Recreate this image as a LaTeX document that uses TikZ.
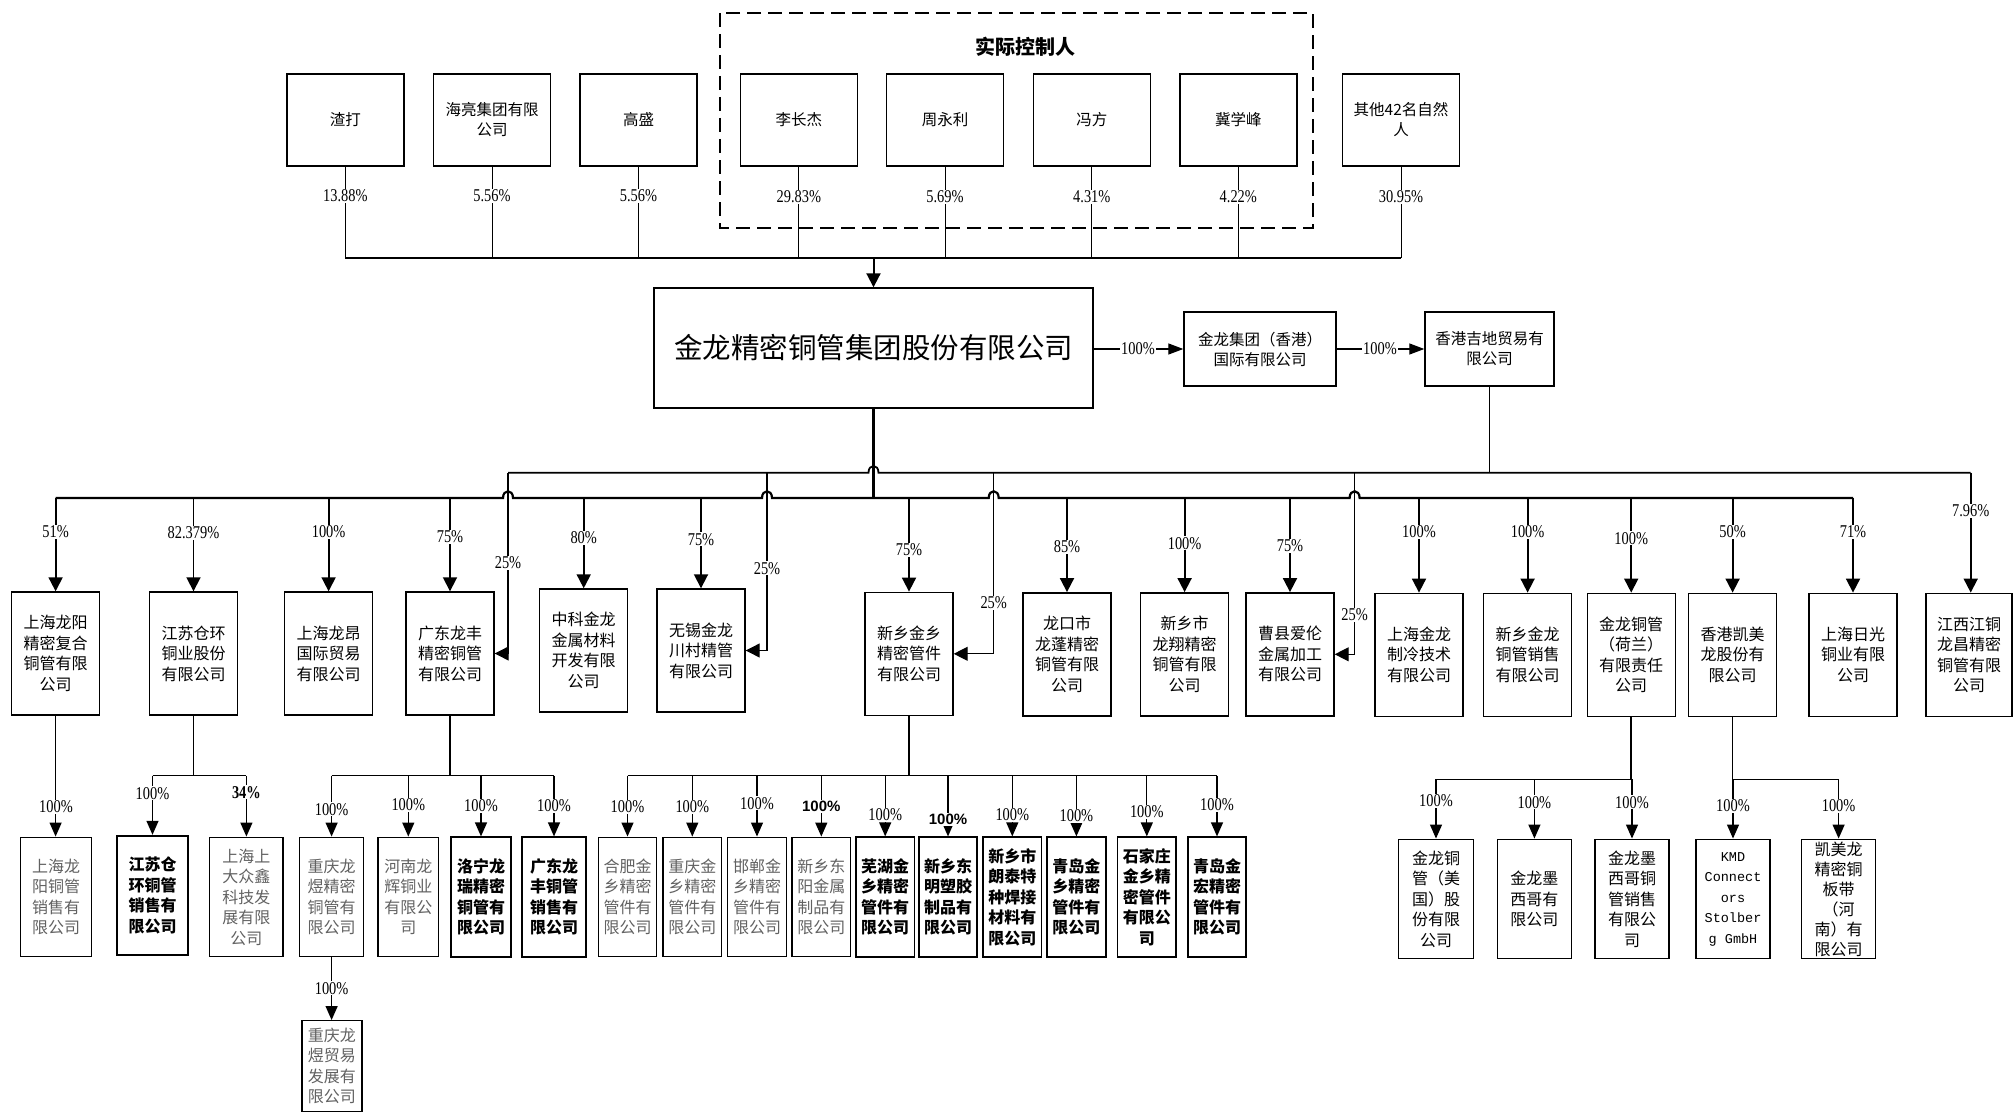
\documentclass[tikz,border=0pt]{standalone}
\usepackage{fontspec}
\setmainfont{Noto Sans CJK SC}
\newfontfamily\pctfont[FakeStretch=0.8]{Liberation Serif}
\newfontfamily\pctsans{Liberation Sans}
\newfontfamily\kmdfont{Liberation Mono}
\usetikzlibrary{arrows.meta}
\newcommand{\hopat}[2]{-- (#1-5,#2) .. controls (#1-5,#2-9) and (#1+5,#2-9) .. (#1+5,#2)}
\tikzset{
  box/.style={draw=black, line width=1.4pt, align=center, inner sep=0pt, font=\fontsize{16}{20.5}\selectfont},
  topbox/.style={box, minimum width=117pt, minimum height=92pt, font=\fontsize{15.5}{20}\selectfont},
  midbox/.style={box, minimum width=88pt, minimum height=123pt},
  lowbox/.style={box, minimum height=119.5pt},
  greytext/.style={text=black!62, draw=black},
  boldtext/.style={line width=1.7pt, font=\fontsize{16}{20.5}\selectfont\bfseries},
  pct/.style={fill=white, inner sep=1pt, font=\pctfont\fontsize{18}{18}\selectfont},
  pctbold/.style={pct, font=\pctfont\fontsize{18}{18}\selectfont\bfseries},
  pctsansbold/.style={pct, font=\pctsans\fontsize{15}{15}\selectfont\bfseries},
  stem/.style={line width=1pt},
  bus/.style={line width=2.2pt},
  hkl/.style={line width=1.8pt},
  subbus/.style={line width=1.5pt},
  arr/.style={line width=1.8pt, -{Triangle[width=14pt,length=14pt]}},
  sidearr/.style={line width=1.2pt, -{Triangle[width=14pt,length=14pt]}},
  harr/.style={line width=1.3pt, -{Triangle[width=11pt,length=15pt]}},
  subarr/.style={line width=1.3pt, -{Triangle[width=12pt,length=14pt]}}
}
\begin{document}
\begin{tikzpicture}[x=1pt,y=-1pt]
\useasboundingbox (0,0) rectangle (2013,1113);
\coordinate (topbus) at (0,258);
\coordinate (bus) at (0,498);
\coordinate (hkline) at (0,472.7);
\coordinate (sbl) at (0,775.7);
\coordinate (sbr) at (0,779.3);
\coordinate (v1) at (508,472.7);
\coordinate (v2) at (767,472.7);
\coordinate (v3) at (993.7,472.7);
\coordinate (v4) at (1354.6,472.7);
\coordinate (v5) at (1970.7,472.7);

\draw[line width=2pt, dash pattern=on 14pt off 7pt] (720,13) rectangle (1313,228);
\node[font=\fontsize{20}{20}\selectfont\bfseries] (ctrl) at (1025,47) {实际控制人};

\node[topbox] (zd) at (345.3,120) {渣打};
\node[topbox] (hl) at (492,120) {海亮集团有限\\公司};
\node[topbox] (gs) at (638.5,120) {高盛};
\node[topbox] (lcj) at (798.8,120) {李长杰};
\node[topbox] (zyl) at (945,120) {周永利};
\node[topbox] (ff) at (1091.8,120) {冯方};
\node[topbox] (jxf) at (1238.3,120) {冀学峰};
\node[topbox] (qt) at (1401,120) {其他42名自然\\人};

\draw[stem] (zd.south) -- (zd.south |- topbus);
\draw[stem] (hl.south) -- (hl.south |- topbus);
\draw[stem] (gs.south) -- (gs.south |- topbus);
\draw[stem] (lcj.south) -- (lcj.south |- topbus);
\draw[stem] (zyl.south) -- (zyl.south |- topbus);
\draw[stem] (ff.south) -- (ff.south |- topbus);
\draw[stem] (jxf.south) -- (jxf.south |- topbus);
\draw[stem] (qt.south) -- (qt.south |- topbus);
\draw[bus] (zd.south |- topbus) -- (qt.south |- topbus);

\node[box, minimum width=439pt, minimum height=120pt, font=\fontsize{28.5}{34}\selectfont] (main) at (873.5,348) {金龙精密铜管集团股份有限公司};
\node[box, minimum width=152pt, minimum height=74pt, font=\fontsize{15.5}{20}\selectfont] (hkg) at (1260,349) {金龙集团（香港）\\国际有限公司};
\node[box, minimum width=129pt, minimum height=74pt, font=\fontsize{15.5}{20}\selectfont] (jd) at (1489.5,349) {香港吉地贸易有\\限公司};

\draw[arr, line width=2pt] (main.north |- topbus) -- (main.north);
\draw[harr] (main.east |- hkg.west) -- (hkg.west);
\draw[harr] (hkg.east) -- (jd.west);

\node[pct] (p1) at (345.3,196) {13.88\%};
\node[pct] (p2) at (492,196) {5.56\%};
\node[pct] (p3) at (638.5,196) {5.56\%};
\node[pct] (p4) at (798.8,197) {29.83\%};
\node[pct] (p5) at (945,197) {5.69\%};
\node[pct] (p6) at (1091.8,197) {4.31\%};
\node[pct] (p7) at (1238.3,197) {4.22\%};
\node[pct] (p8) at (1401,197) {30.95\%};
\node[pct] (phk1) at (1138,349) {100\%};
\node[pct] (phk2) at (1380,349) {100\%};

\node[midbox] (m1) at (55.6,653.5) {上海龙阳\\精密复合\\铜管有限\\公司};
\node[midbox] (m2) at (193.5,653.5) {江苏仓环\\铜业股份\\有限公司};
\node[midbox] (m3) at (328.6,653.5) {上海龙昂\\国际贸易\\有限公司};
\node[midbox] (m4) at (450,653.5) {广东龙丰\\精密铜管\\有限公司};
\node[midbox] (m5) at (583.7,650.5) {中科金龙\\金属材料\\开发有限\\公司};
\node[midbox] (m6) at (701,650.5) {无锡金龙\\川村精管\\有限公司};
\node[midbox] (m7) at (909,653.8) {新乡金乡\\精密管件\\有限公司};
\node[midbox] (m8) at (1067,654.3) {龙口市\\龙蓬精密\\铜管有限\\公司};
\node[midbox] (m9) at (1184.6,654.3) {新乡市\\龙翔精密\\铜管有限\\公司};
\node[midbox] (m10) at (1290,654.3) {曹县爱伦\\金属加工\\有限公司};
\node[midbox] (m11) at (1419,654.8) {上海金龙\\制冷技术\\有限公司};
\node[midbox] (m12) at (1527.6,654.8) {新乡金龙\\铜管销售\\有限公司};
\node[midbox] (m13) at (1631.2,654.8) {金龙铜管\\（荷兰）\\有限责任\\公司};
\node[midbox] (m14) at (1732.6,654.8) {香港凯美\\龙股份有\\限公司};
\node[midbox] (m15) at (1853,654.8) {上海日光\\铜业有限\\公司};
\node[midbox, minimum width=86pt] (m16) at (1969,654.8) {江西江铜\\龙昌精密\\铜管有限\\公司};

\draw[bus] (main.south) -- (main.south |- bus);
\draw[bus] (m1.north |- bus) \hopat{508}{498} \hopat{767}{498} \hopat{993.7}{498} \hopat{1354.6}{498} -- (m15.north |- bus);
\draw[hkl] (jd.south) -- (jd.south |- hkline);
\draw[hkl] (v1) \hopat{873.5}{472.7} -- (v5);

\draw[arr] (m1.north |- bus) -- (m1.north);
\draw[arr] (m2.north |- bus) -- (m2.north);
\draw[arr] (m3.north |- bus) -- (m3.north);
\draw[arr] (m4.north |- bus) -- (m4.north);
\draw[arr] (m5.north |- bus) -- (m5.north);
\draw[arr] (m6.north |- bus) -- (m6.north);
\draw[arr] (m7.north |- bus) -- (m7.north);
\draw[arr] (m8.north |- bus) -- (m8.north);
\draw[arr] (m9.north |- bus) -- (m9.north);
\draw[arr] (m10.north |- bus) -- (m10.north);
\draw[arr] (m11.north |- bus) -- (m11.north);
\draw[arr] (m12.north |- bus) -- (m12.north);
\draw[arr] (m13.north |- bus) -- (m13.north);
\draw[arr] (m14.north |- bus) -- (m14.north);
\draw[arr] (m15.north |- bus) -- (m15.north);
\draw[arr] (v5) -- (v5 |- m16.north);
\draw[sidearr] (v1) |- (m4.east);
\draw[sidearr] (v2) |- (m6.east);
\draw[sidearr] (v3) |- (m7.east);
\draw[sidearr] (v4) |- (m10.east);

\node[pct] (q1) at (55.6,531.7) {51\%};
\node[pct] (q2) at (193.5,532.7) {82.379\%};
\node[pct] (q3) at (328.6,531.7) {100\%};
\node[pct] (q4) at (450,536.7) {75\%};
\node[pct] (q5) at (583.7,538) {80\%};
\node[pct] (q6) at (701,539.3) {75\%};
\node[pct] (q7) at (909,550) {75\%};
\node[pct] (q8) at (1067,546.7) {85\%};
\node[pct] (q9) at (1184.6,543.3) {100\%};
\node[pct] (q10) at (1290,545.7) {75\%};
\node[pct] (q11) at (1419,531.7) {100\%};
\node[pct] (q12) at (1527.6,531.7) {100\%};
\node[pct] (q13) at (1631.2,538.3) {100\%};
\node[pct] (q14) at (1732.6,531.7) {50\%};
\node[pct] (q15) at (1853,531.7) {71\%};
\node[pct] (q16) at (1970.7,510.7) {7.96\%};
\node[pct] (s1) at (508,562.7) {25\%};
\node[pct] (s2) at (767,568.3) {25\%};
\node[pct] (s3) at (993.7,602.7) {25\%};
\node[pct] (s4) at (1354.6,615) {25\%};

\node[lowbox, greytext, minimum width=70.5pt] (l1) at (56,897) {上海龙\\阳铜管\\销售有\\限公司};
\node[lowbox, boldtext, minimum width=70.5pt] (l2) at (152.5,895.4) {江苏仓\\环铜管\\销售有\\限公司};
\node[lowbox, greytext, minimum width=73.3pt] (l3) at (246.4,897) {上海上\\大众鑫\\科技发\\展有限\\公司};
\node[lowbox, greytext, minimum width=63.8pt] (l4) at (331.6,897) {重庆龙\\煜精密\\铜管有\\限公司};
\node[lowbox, greytext, minimum width=60.5pt] (l5) at (408.3,897) {河南龙\\辉铜业\\有限公\\司};
\node[lowbox, boldtext, minimum width=60pt] (l6) at (481,897) {洛宁龙\\瑞精密\\铜管有\\限公司};
\node[lowbox, boldtext, minimum width=63.4pt] (l7) at (554,897) {广东龙\\丰铜管\\销售有\\限公司};
\node[box, greytext, minimum width=60pt, minimum height=90.5pt] (l8) at (331.8,1066) {重庆龙\\煜贸易\\发展有\\限公司};

\node[lowbox, greytext, minimum width=58.5pt] (n1) at (627.5,897) {合肥金\\乡精密\\管件有\\限公司};
\node[lowbox, greytext, minimum width=58.5pt] (n2) at (692.3,897) {重庆金\\乡精密\\管件有\\限公司};
\node[lowbox, greytext, minimum width=58.5pt] (n3) at (757,897) {邯郸金\\乡精密\\管件有\\限公司};
\node[lowbox, greytext, minimum width=58.5pt] (n4) at (821.3,897) {新乡东\\阳金属\\制品有\\限公司};
\node[lowbox, boldtext, minimum width=58.5pt] (n5) at (885.2,897) {芜湖金\\乡精密\\管件有\\限公司};
\node[lowbox, boldtext, minimum width=58.5pt] (n6) at (948,897) {新乡东\\明塑胶\\制品有\\限公司};
\node[lowbox, boldtext, minimum width=58.5pt] (n7) at (1012.3,897) {新乡市\\朗泰特\\种焊接\\材料有\\限公司};
\node[lowbox, boldtext, minimum width=58.5pt] (n8) at (1076.4,897) {青岛金\\乡精密\\管件有\\限公司};
\node[lowbox, boldtext, minimum width=58.5pt] (n9) at (1146.8,897) {石家庄\\金乡精\\密管件\\有限公\\司};
\node[lowbox, boldtext, minimum width=58.5pt] (n10) at (1217,897) {青岛金\\宏精密\\管件有\\限公司};

\node[lowbox, minimum width=74.5pt] (r1) at (1436,899) {金龙铜\\管（美\\国）股\\份有限\\公司};
\node[lowbox, minimum width=74.2pt] (r2) at (1534.4,899) {金龙墨\\西哥有\\限公司};
\node[lowbox, minimum width=74.2pt] (r3) at (1632,899) {金龙墨\\西哥铜\\管销售\\有限公\\司};
\node[lowbox, minimum width=74pt, font=\kmdfont\fontsize{13.5}{20.5}\selectfont] (r4) at (1733,899) {KMD\\Connect\\ors\\Stolber\\g GmbH};
\node[lowbox, minimum width=74.1pt, font=\fontsize{16}{20}\selectfont] (r5) at (1838.6,899) {凯美龙\\精密铜\\板带\\（河\\南）有\\限公司};

\draw[subarr] (m1.south) -- (m1.south |- l1.north);
\draw[subbus] (m2.south) -- (m2.south |- sbl);
\draw[subbus] (l2.north |- sbl) -- (l3.north |- sbl);
\draw[subarr] (l2.north |- sbl) -- (l2.north);
\draw[subarr] (l3.north |- sbl) -- (l3.north);
\draw[subbus] (m4.south) -- (m4.south |- sbl);
\draw[subbus] (l4.north |- sbl) -- (l7.north |- sbl);
\draw[subarr] (l4.north |- sbl) -- (l4.north);
\draw[subarr] (l5.north |- sbl) -- (l5.north);
\draw[subarr] (l6.north |- sbl) -- (l6.north);
\draw[subarr] (l7.north |- sbl) -- (l7.north);
\draw[subarr] (l4.south) -- (l4.south |- l8.north);
\draw[subbus] (m7.south) -- (m7.south |- sbl);
\draw[subbus] (n1.north |- sbl) -- (n10.north |- sbl);
\draw[subarr] (n1.north |- sbl) -- (n1.north);
\draw[subarr] (n2.north |- sbl) -- (n2.north);
\draw[subarr] (n3.north |- sbl) -- (n3.north);
\draw[subarr] (n4.north |- sbl) -- (n4.north);
\draw[subarr] (n5.north |- sbl) -- (n5.north);
\draw[subarr] (n6.north |- sbl) -- (n6.north);
\draw[subarr] (n7.north |- sbl) -- (n7.north);
\draw[subarr] (n8.north |- sbl) -- (n8.north);
\draw[subarr] (n9.north |- sbl) -- (n9.north);
\draw[subarr] (n10.north |- sbl) -- (n10.north);
\draw[subbus] (m13.south) -- (m13.south |- sbr);
\draw[subbus] (r1.north |- sbr) -- (r3.north |- sbr);
\draw[subarr] (r1.north |- sbr) -- (r1.north);
\draw[subarr] (r2.north |- sbr) -- (r2.north);
\draw[subarr] (r3.north |- sbr) -- (r3.north);
\draw[subbus] (m14.south) -- (m14.south |- sbr);
\draw[subbus] (r4.north |- sbr) -- (r5.north |- sbr);
\draw[subarr] (r4.north |- sbr) -- (r4.north);
\draw[subarr] (r5.north |- sbr) -- (r5.north);

\node[pct] (t1) at (56,806.7) {100\%};
\node[pct] (t2) at (152.5,793.3) {100\%};
\node[pctbold] (t3) at (246.4,792.3) {34\%};
\node[pct] (t4) at (331.6,809.3) {100\%};
\node[pct] (t5) at (408.3,805) {100\%};
\node[pct] (t6) at (481,806) {100\%};
\node[pct] (t7) at (554,806) {100\%};
\node[pct] (t8) at (331.6,988.3) {100\%};
\node[pct] (u1) at (627.5,806.7) {100\%};
\node[pct] (u2) at (692.3,806.7) {100\%};
\node[pct] (u3) at (757,803.3) {100\%};
\node[pctsansbold] (u4) at (821.3,806.7) {100\%};
\node[pct] (u5) at (885.2,815) {100\%};
\node[pctsansbold] (u6) at (948,819.3) {100\%};
\node[pct] (u7) at (1012.3,815) {100\%};
\node[pct] (u8) at (1076.4,816) {100\%};
\node[pct] (u9) at (1146.8,811.7) {100\%};
\node[pct] (u10) at (1217,805) {100\%};
\node[pct] (w1) at (1436,801) {100\%};
\node[pct] (w2) at (1534.4,802.3) {100\%};
\node[pct] (w3) at (1632,802.3) {100\%};
\node[pct] (w4) at (1733,805.7) {100\%};
\node[pct] (w5) at (1838.6,805.7) {100\%};
\end{tikzpicture}
\end{document}
